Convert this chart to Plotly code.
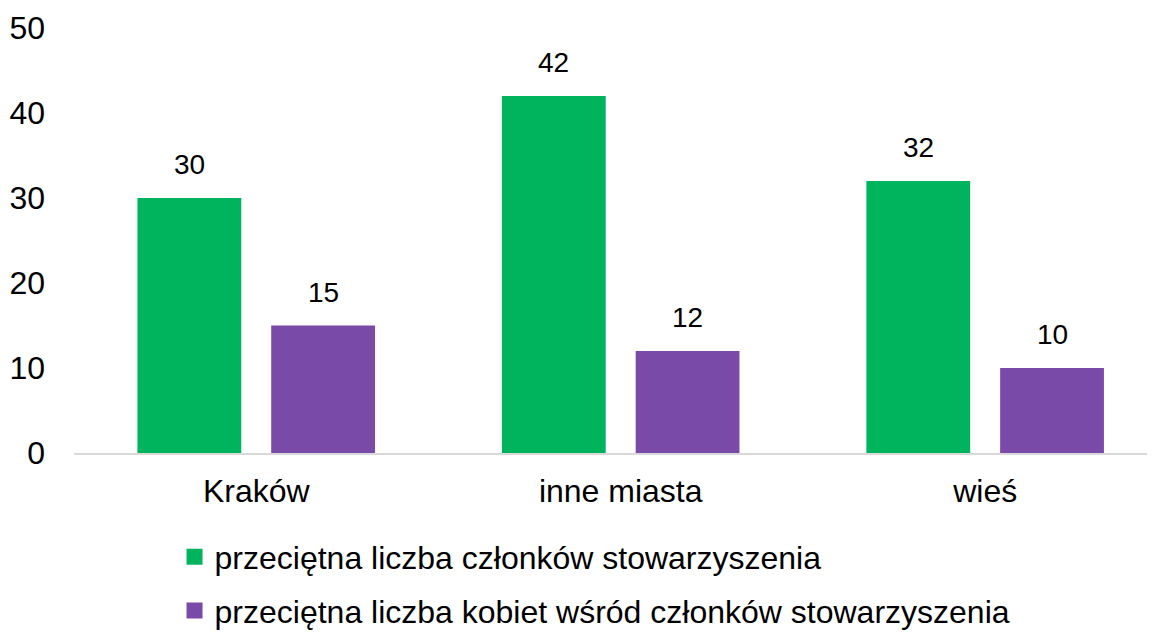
import plotly.graph_objects as go

categories = ["Kraków", "inne miasta", "wieś"]
members = [30, 42, 32]
women = [15, 12, 10]
series_names = [
    "przeciętna liczba członków stowarzyszenia",
    "przeciętna liczba kobiet wśród członków stowarzyszenia",
]
y_ticks = [0, 10, 20, 30, 40, 50]

GREEN = "#00B45E"
PURPLE = "#7A4AA9"
FONT = "Liberation Sans, Arial, sans-serif"

fig = go.Figure()
for vals, name, color in [(members, series_names[0], GREEN),
                          (women, series_names[1], PURPLE)]:
    fig.add_trace(go.Bar(x=categories, y=vals, name=name,
                         marker=dict(color=color, line=dict(width=0)),
                         showlegend=False))

# legend entries: empty scatter traces so the square swatch can be larger
for i, (name, color) in enumerate([(series_names[0], GREEN),
                                   (series_names[1], PURPLE)]):
    fig.add_trace(go.Scatter(x=[None], y=[None], mode="markers", name=name,
                             marker=dict(symbol="square", size=16, color=color),
                             legendgroup=str(i), hoverinfo="skip"))

# value labels above the bars (offset left/right for the two series)
for vals, shift in [(members, -67), (women, 67)]:
    for cat, v in zip(categories, vals):
        fig.add_annotation(x=cat, y=v, text=str(v), showarrow=False,
                           xshift=shift, yshift=16, yanchor="bottom",
                           font=dict(size=28, color="#000000", family=FONT))

# page body has an 8px margin, so the figure is a bit smaller than the window
fig.update_layout(
    width=1147, height=624,
    margin=dict(l=66, r=0, t=20, b=179, autoexpand=False),
    barmode="group",
    bargap=0.266,
    bargroupgap=0.224,
    plot_bgcolor="white",
    paper_bgcolor="white",
    font=dict(family=FONT, size=32, color="#000000"),
    showlegend=True,
    legend=dict(orientation="v", x=0.093, xanchor="left",
                y=-0.18, yanchor="top",
                font=dict(size=32), tracegroupgap=9,
                bgcolor="rgba(0,0,0,0)"),
    xaxis=dict(type="category", range=[-0.5, 2.466], showgrid=False,
               zeroline=False, showline=True, linecolor="#D9D9D9",
               linewidth=2, ticks="", ticklabelstandoff=9),
    yaxis=dict(range=[0, 50], tickvals=y_ticks, showgrid=False,
               zeroline=False, showline=False, ticks="",
               ticklabelstandoff=28),
)

fig.write_html("out.html")
